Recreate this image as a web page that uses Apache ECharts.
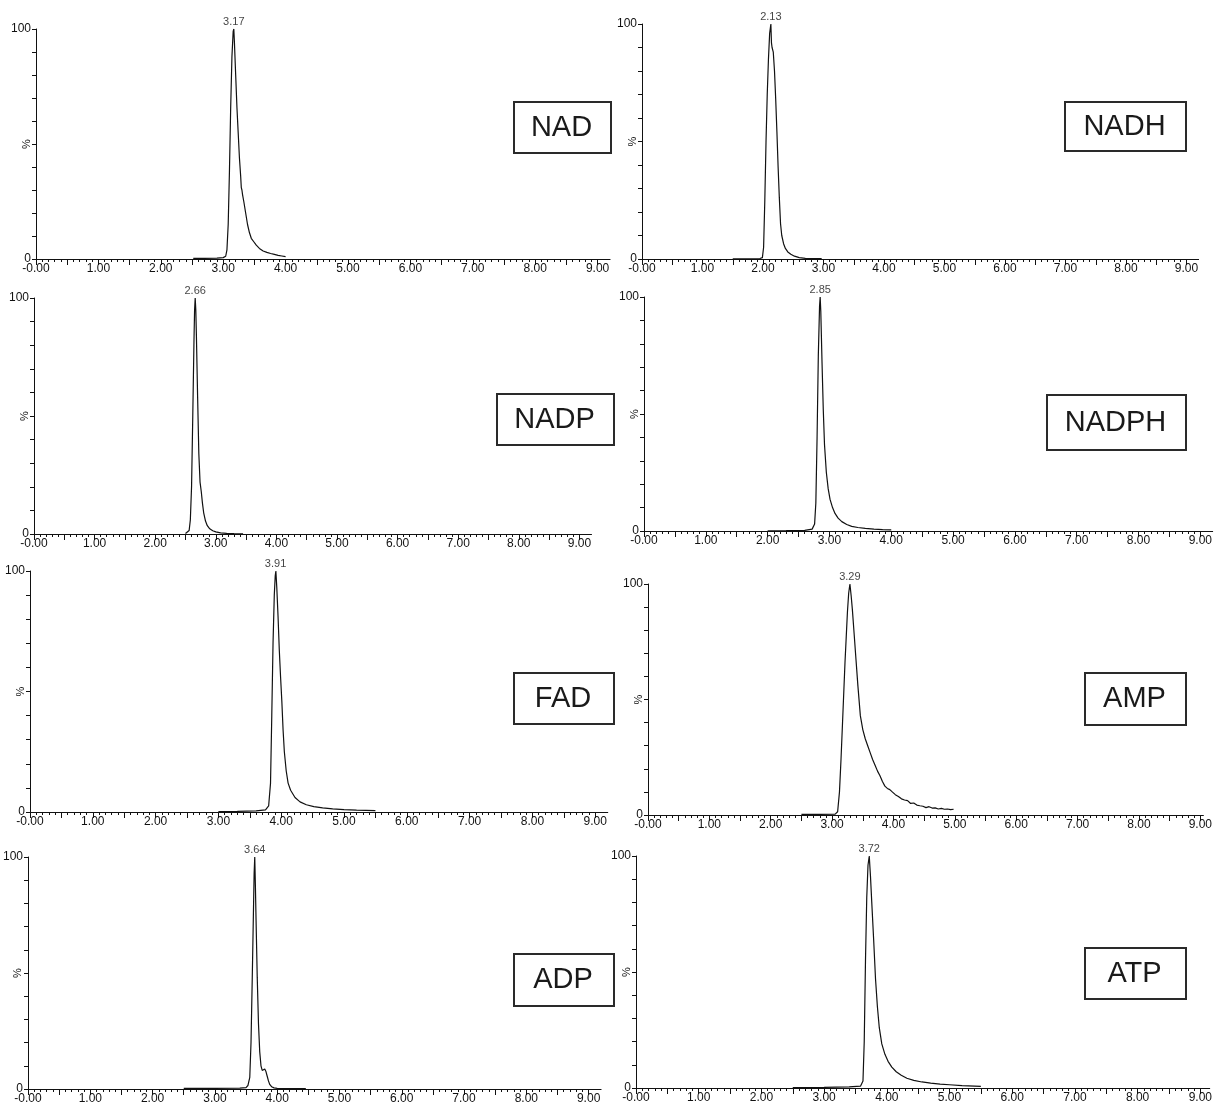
<!DOCTYPE html>
<html>
<head>
<meta charset="utf-8">
<title>Chromatograms</title>
<script src="https://cdn.jsdelivr.net/npm/echarts@6/dist/echarts.min.js"></script>
<style>
  html, body { margin: 0; padding: 0; background: #fff; }
  #chart { width: 1215px; height: 1109px; }
</style>
</head>
<body>
<div id="chart"></div>
<script>
// compound names and labelled retention times (min)
const names = ['NAD', 'NADH', 'NADP', 'NADPH', 'FAD', 'AMP', 'ADP', 'ATP'];
const peakTimes = ['3.17', '2.13', '2.66', '2.85', '3.91', '3.29', '3.64', '3.72'];
const xTickLabels = [0, 1, 2, 3, 4, 5, 6, 7, 8, 9];
const yTickLabels = [0, 100];

// traces: time (min) / relative intensity (%)
const nadT = [2.52, 2.70, 2.90, 3.00, 3.04, 3.06, 3.08, 3.10, 3.12, 3.14, 3.16, 3.17, 3.18, 3.20, 3.22, 3.24, 3.26, 3.28, 3.29, 3.30, 3.31, 3.33, 3.36, 3.39, 3.42, 3.45, 3.49, 3.53, 3.58, 3.64, 3.70, 3.76, 3.82, 3.88, 3.94, 4.00];
const nadY = [0.3, 0.3, 0.4, 0.6, 1.2, 4, 15, 38, 66, 88, 99, 100, 94, 80, 66, 55, 44, 36, 31, 30, 28, 25, 20, 15, 11.5, 9, 7.5, 6, 4.6, 3.5, 2.9, 2.4, 2.0, 1.6, 1.3, 1.0];

const nadhT = [1.50, 1.80, 1.95, 1.99, 2.01, 2.03, 2.05, 2.07, 2.09, 2.11, 2.13, 2.14, 2.15, 2.17, 2.19, 2.21, 2.23, 2.25, 2.27, 2.29, 2.31, 2.34, 2.37, 2.41, 2.46, 2.52, 2.60, 2.70, 2.85, 2.97];
const nadhY = [0.1, 0.1, 0.2, 0.6, 5, 25, 50, 70, 85, 96, 100, 92, 90, 88, 80, 68, 54, 39, 26, 15, 10, 6.5, 4.5, 3, 2, 1.2, 0.6, 0.3, 0.2, 0.2];

const nadpT = [2.50, 2.53, 2.56, 2.58, 2.60, 2.62, 2.64, 2.65, 2.66, 2.67, 2.68, 2.70, 2.72, 2.74, 2.76, 2.78, 2.80, 2.83, 2.86, 2.90, 2.95, 3.00, 3.08, 3.18, 3.30, 3.45];
const nadpY = [0.2, 0.4, 1.5, 6, 20, 50, 82, 95, 100, 95, 84, 58, 34, 22, 18, 13, 9, 5.5, 3.5, 2.2, 1.4, 0.9, 0.5, 0.3, 0.2, 0.1];

const nadphT = [2.00, 2.30, 2.60, 2.72, 2.76, 2.78, 2.80, 2.82, 2.84, 2.85, 2.86, 2.88, 2.90, 2.92, 2.95, 2.98, 3.01, 3.05, 3.09, 3.14, 3.20, 3.28, 3.36, 3.46, 3.58, 3.72, 3.86, 4.00];
const nadphY = [0.1, 0.15, 0.3, 0.8, 3, 12, 40, 75, 96, 100, 94, 72, 52, 37, 25, 18, 13.5, 10, 7.5, 5.5, 4, 2.8, 2, 1.5, 1.1, 0.8, 0.6, 0.5];

const fadT = [3.00, 3.30, 3.60, 3.75, 3.80, 3.83, 3.85, 3.87, 3.89, 3.905, 3.915, 3.93, 3.95, 3.97, 3.99, 4.01, 4.03, 4.05, 4.08, 4.11, 4.15, 4.22, 4.30, 4.40, 4.52, 4.66, 4.82, 5.00, 5.20, 5.50];
const fadY = [0.2, 0.3, 0.5, 0.9, 2.5, 12, 40, 70, 90, 98, 100, 93, 81, 67, 56, 46, 34, 25, 17, 12, 9, 6, 4.2, 3, 2.2, 1.7, 1.3, 1.0, 0.8, 0.6];

const ampT = [2.50, 2.80, 3.05, 3.09, 3.12, 3.145, 3.17, 3.19, 3.21, 3.23, 3.25, 3.27, 3.29, 3.31, 3.33, 3.36, 3.39, 3.42, 3.46, 3.50, 3.54, 3.58, 3.62, 3.66, 3.70, 3.74, 3.78, 3.82, 3.86, 3.90, 3.94, 3.98, 4.03, 4.08, 4.13, 4.18, 4.23, 4.28, 4.33, 4.38, 4.43, 4.48, 4.53, 4.58, 4.63, 4.68, 4.73, 4.78, 4.83, 4.88, 4.93, 4.98];
const ampY = [0.3, 0.3, 0.4, 1.4, 10, 24, 40, 53, 66, 77, 88, 96, 100, 95, 89, 78, 67, 56, 43, 37, 33, 30, 27, 24, 21.5, 19, 17, 14.5, 12.5, 11.5, 11, 10, 8.8, 8, 7, 6.5, 6.2, 5, 5.2, 4.3, 4, 3.8, 3.2, 3.6, 3, 3.1, 2.6, 2.9, 2.5, 2.6, 2.3, 2.5];

const adpT = [2.50, 3.00, 3.40, 3.50, 3.53, 3.56, 3.58, 3.60, 3.62, 3.63, 3.64, 3.65, 3.66, 3.68, 3.70, 3.72, 3.74, 3.76, 3.78, 3.80, 3.82, 3.84, 3.86, 3.88, 3.91, 3.95, 4.00, 4.20, 4.46];
const adpY = [0.3, 0.3, 0.4, 0.6, 1.5, 5, 20, 48, 78, 93, 100, 88, 74, 48, 28, 16, 10, 8, 8.3, 8.6, 7.5, 5.5, 3.5, 2, 1, 0.5, 0.3, 0.2, 0.2];

const atpT = [2.50, 3.00, 3.40, 3.58, 3.62, 3.64, 3.66, 3.68, 3.70, 3.72, 3.74, 3.76, 3.79, 3.82, 3.85, 3.88, 3.92, 3.97, 4.02, 4.08, 4.15, 4.23, 4.32, 4.43, 4.56, 4.70, 4.85, 5.00, 5.20, 5.50];
const atpY = [0.2, 0.3, 0.5, 0.8, 3, 20, 55, 82, 96, 100, 91, 80, 64, 47, 35, 26, 19, 14.5, 11.5, 9, 7, 5.5, 4.2, 3.3, 2.6, 2.1, 1.7, 1.4, 1.0, 0.7];

const traces = [[nadT, nadY], [nadhT, nadhY], [nadpT, nadpY], [nadphT, nadphY],
                [fadT, fadY], [ampT, ampY], [adpT, adpY], [atpT, atpY]];

// panel geometry in px: x of t=0, px per minute, y of 100 %, y of 0 %, axis end (min)
const panels = [
  { x0: 36, unit: 62.4, top: 29, bottom: 259, xMax: 9.2 },
  { x0: 642, unit: 60.5, top: 24, bottom: 259, xMax: 9.2 },
  { x0: 34, unit: 60.6, top: 298, bottom: 534, xMax: 9.2 },
  { x0: 644, unit: 61.9, top: 297, bottom: 531, xMax: 9.2 },
  { x0: 30, unit: 62.8, top: 571, bottom: 812, xMax: 9.2 },
  { x0: 648, unit: 62.3, top: 584, bottom: 815, xMax: 9.05 },
  { x0: 27, unit: 62.4, top: 857, bottom: 1089, xMax: 9.2 },
  { x0: 636, unit: 63.2, top: 856, bottom: 1088, xMax: 9.15 }
];
// name boxes [x, y, w, h]
const boxes = [
  [513, 101, 97, 51], [1064, 101, 121, 49], [496, 393, 117, 51], [1046, 394, 139, 55],
  [513, 672, 100, 51], [1084, 672, 101, 52], [513, 953, 100, 52], [1084, 947, 101, 51]
];

const FONT = '"Liberation Sans", Arial, Helvetica, sans-serif';
const INK = '#111';

function steps(step, last) {
  let out = [];
  for (let i = 0; i * step <= last + 1e-9; i++) out.push(+(i * step).toFixed(2));
  return out;
}
const minorTicks = steps(0.1, 9.0);
const halfTicks = steps(0.5, 9.0);

let grid = [], xAxis = [], yAxis = [], series = [], graphic = [];

panels.forEach(function (p, i) {
  grid.push({
    left: p.x0, top: p.top,
    width: p.unit * p.xMax, height: p.bottom - p.top,
    containLabel: false
  });
  // main x axis: line, small ticks every 0.1, labels at whole minutes
  xAxis.push({
    type: 'value', gridIndex: i, min: 0, max: p.xMax, position: 'bottom',
    axisLine: { show: true, onZero: false, lineStyle: { color: INK, width: 1 } },
    axisTick: { show: true, length: 3, customValues: minorTicks, lineStyle: { color: INK } },
    axisLabel: {
      show: true, customValues: xTickLabels, margin: 4,
      fontFamily: FONT, fontSize: 12, color: '#111',
      formatter: function (v) { return v === 0 ? '-0.00' : v.toFixed(2); }
    },
    splitLine: { show: false }
  });
  // overlay axis for the longer ticks every 0.5
  xAxis.push({
    type: 'value', gridIndex: i, min: 0, max: p.xMax, position: 'bottom', offset: 0,
    axisLine: { show: false },
    axisTick: { show: true, length: 6, customValues: halfTicks, lineStyle: { color: INK } },
    axisLabel: { show: false },
    splitLine: { show: false }
  });
  yAxis.push({
    type: 'value', gridIndex: i, min: 0, max: 100, interval: 10,
    axisLine: { show: true, onZero: false, lineStyle: { color: INK, width: 1 } },
    axisTick: { show: true, length: 4, lineStyle: { color: INK } },
    axisLabel: {
      show: true, margin: 5, fontFamily: FONT, fontSize: 12, color: '#111',
      formatter: function (v) { return yTickLabels.indexOf(v) >= 0 ? String(v) : ''; }
    },
    splitLine: { show: false }
  });

  const t = traces[i][0], y = traces[i][1];
  series.push({
    type: 'line', xAxisIndex: i * 2, yAxisIndex: i,
    data: t.map(function (v, k) { return [v, y[k]]; }),
    showSymbol: false, symbol: 'none', smooth: false,
    lineStyle: { color: INK, width: 1.2 },
    silent: true, animation: false
  });
  // retention time label above the apex
  series.push({
    type: 'scatter', xAxisIndex: i * 2, yAxisIndex: i,
    data: [[parseFloat(peakTimes[i]), 100]],
    symbolSize: 1, itemStyle: { color: 'rgba(0,0,0,0)' },
    label: {
      show: true, position: 'top', distance: 1,
      formatter: peakTimes[i], fontFamily: FONT, fontSize: 11, color: '#111'
    },
    silent: true, animation: false
  });

  // "%" axis title, rotated, beside the y axis
  graphic.push({
    type: 'text', x: p.x0 - 9, y: (p.top + p.bottom) / 2, rotation: Math.PI / 2,
    style: {
      text: '%', fontFamily: FONT, fontSize: 11, fill: '#111',
      textAlign: 'center', textVerticalAlign: 'middle'
    }
  });

  const b = boxes[i];
  graphic.push({
    type: 'rect', left: b[0], top: b[1],
    shape: { width: b[2], height: b[3] },
    style: { fill: '#fff', stroke: '#2a2a2a', lineWidth: 2 }
  });
  graphic.push({
    type: 'text', x: b[0] + b[2] / 2, y: b[1] + b[3] / 2 + 1,
    style: {
      text: names[i], fontFamily: FONT, fontSize: 29, fill: '#1a1a1a',
      textAlign: 'center', textVerticalAlign: 'middle'
    }
  });
});

const chart = echarts.init(document.getElementById('chart'), null, { renderer: 'canvas' });
chart.setOption({
  backgroundColor: '#fff',
  animation: false,
  grid: grid,
  xAxis: xAxis,
  yAxis: yAxis,
  series: series,
  graphic: graphic
});
</script>
</body>
</html>
